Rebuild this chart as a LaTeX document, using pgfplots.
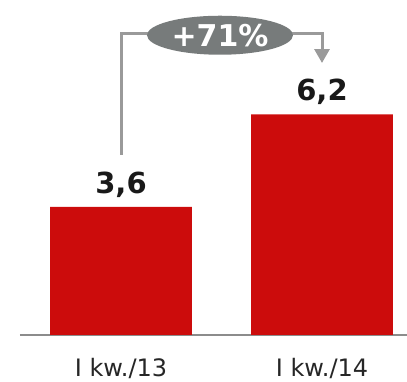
\documentclass[border=0pt]{standalone}
\usepackage{pgfplots}
\pgfplotsset{compat=1.18}
\usepackage{fontspec}
\setmainfont{DejaVu Sans}
\usetikzlibrary{arrows.meta}
\definecolor{barred}{HTML}{CC0C0C}
\definecolor{ellgray}{HTML}{777B7B}
\definecolor{linegray}{HTML}{9A9A9A}
\definecolor{axgray}{HTML}{8C8C8C}
\begin{document}
\begin{tikzpicture}
\useasboundingbox (0,0) rectangle (407pt,382pt);
\begin{axis}[
  at={(20pt,47pt)}, anchor=south west,
  scale only axis, width=387pt, height=335pt,
  xmin=-0.5025, xmax=1.4229, ymin=0, ymax=9.41,
  axis y line=none, axis x line*=bottom,
  x axis line style={-, draw=axgray, line width=2pt},
  xtick={0,1}, xticklabels={I kw./13, I kw./14},
  major tick length=0pt,
  xticklabel style={anchor=north, inner sep=0pt, yshift=-23pt, text=black!85,
    font=\fontsize{24}{28}\selectfont},
  ytick=\empty,
  clip=false,
  /pgf/number format/assume math mode=true,
  nodes near coords={\pgfmathprintnumber[fixed, fixed zerofill, precision=1, use comma, assume math mode=true]{\pgfplotspointmeta}},
  every node near coord/.append style={anchor=south, inner sep=0pt, yshift=9pt,
    text=black!90, font=\bfseries\fontsize{29}{31}\selectfont},
]
\addplot[ybar, bar width=0.706, bar shift=0pt, fill=barred, draw=none]
  coordinates {(0,3.6) (1,6.2)};
\draw[linegray, line width=3pt] (axis cs:0,5.06) |- (axis cs:0.4925,8.48);
\draw[linegray, line width=3pt, -{Triangle[width=15pt,length=14pt]}]
  (axis cs:0.4925,8.48) -| (axis cs:1,7.64);
\fill[ellgray] (axis cs:0.4925,8.42) ellipse [x radius=73pt, y radius=19.5pt];
\node[text=white, font=\bfseries\fontsize{30}{32}\selectfont, inner sep=0pt]
  at (axis cs:0.4925,8.42) {+71\%};
\end{axis}
\end{tikzpicture}
\end{document}
